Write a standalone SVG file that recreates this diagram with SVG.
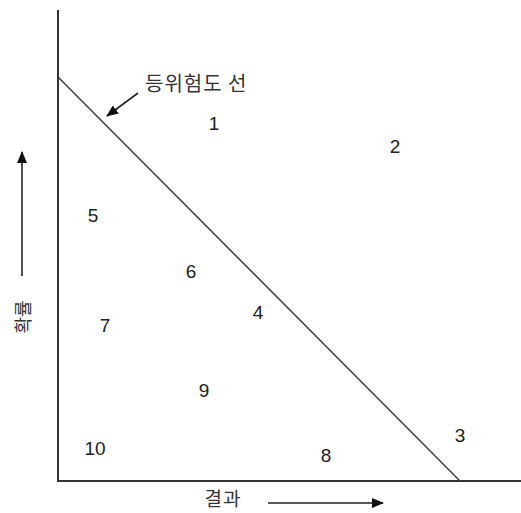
<svg xmlns="http://www.w3.org/2000/svg" width="521" height="513" viewBox="0 0 521 513">
<style>
.ax{stroke:#333;stroke-width:2;fill:none}
.dg{stroke:#444;stroke-width:1.6;fill:none}
.ar{stroke:#222;stroke-width:1.6;fill:none}
.num{font-family:"Liberation Sans","Noto Sans",sans-serif;font-size:19px;fill:#222;text-anchor:middle}
.ko{font-family:"Noto Sans CJK KR","Noto Sans",sans-serif;font-size:20px;fill:#333}
</style>
<defs>
<marker id="ah" markerWidth="12" markerHeight="10" refX="11" refY="5" orient="auto" markerUnits="userSpaceOnUse">
<path d="M0,0 L12,5 L0,10 Z" fill="#111"/>
</marker>
</defs>
<rect width="521" height="513" fill="#fff"/>
<g id="connectors">
<path class="ax" d="M58,10 V481 H521"/>
<path class="dg" d="M58,77 L460,481"/>
<path class="ar" d="M138,93 L107,116" marker-end="url(#ah)"/>
<path class="ar" d="M22,276 V152" marker-end="url(#ah)"/>
<path class="ar" d="M268,503 H383" marker-end="url(#ah)"/>
</g>
<g id="label-line"><text class="ko" x="145" y="91" letter-spacing="1">등위험도 선</text></g>
<g id="label-x"><text class="ko" style="font-size:19px" x="223" y="506" text-anchor="middle" letter-spacing="1">결과</text></g>
<g id="label-y"><text class="ko" style="font-size:18px" transform="translate(22,317) rotate(-90)" text-anchor="middle" dominant-baseline="central">확률</text></g>
<g id="n1"><text class="num" x="214" y="130">1</text></g>
<g id="n2"><text class="num" x="395" y="153">2</text></g>
<g id="n3"><text class="num" x="460" y="442">3</text></g>
<g id="n4"><text class="num" x="258" y="319">4</text></g>
<g id="n5"><text class="num" x="93" y="222">5</text></g>
<g id="n6"><text class="num" x="191" y="278">6</text></g>
<g id="n7"><text class="num" x="105" y="332">7</text></g>
<g id="n8"><text class="num" x="326" y="462">8</text></g>
<g id="n9"><text class="num" x="204" y="397">9</text></g>
<g id="n10"><text class="num" x="95" y="455">10</text></g>
</svg>
